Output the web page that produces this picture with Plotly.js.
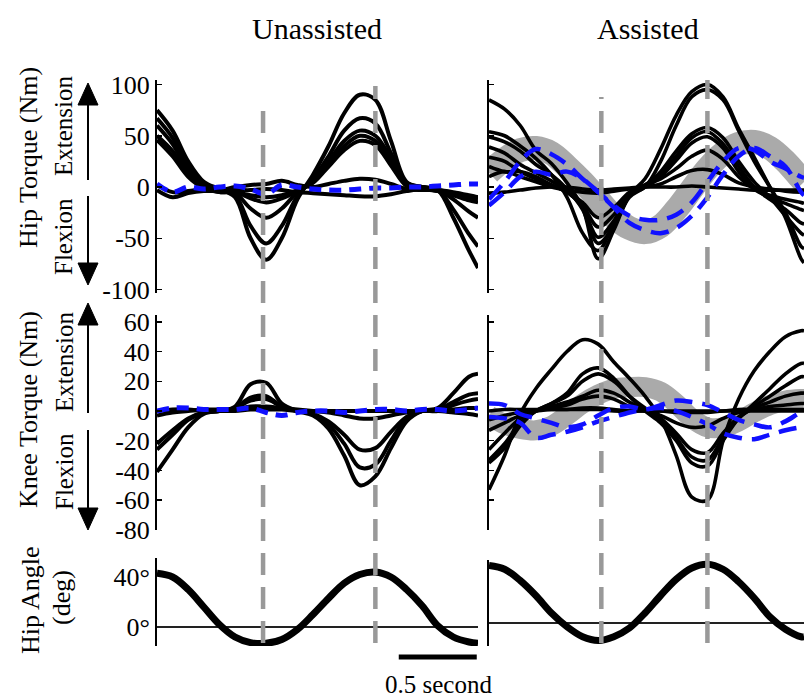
<!DOCTYPE html>
<html><head><meta charset="utf-8">
<script src="https://cdn.plot.ly/plotly-3.0.1.min.js"></script>
<style>html,body{margin:0;padding:0;background:#fff}#chart{width:804px;height:700px}</style>
</head><body><div id="chart"></div>
<script>
// ---------- DATA ----------
const timeUnassisted = [0,0.1,0.2,0.3,0.4,0.5,0.6,0.7,0.8,0.9,1.0,1.1,1.2,1.3,1.4,1.5,1.6,1.7,1.8,1.9,2.0,2.058];
const timeAssisted   = [0,0.1,0.2,0.3,0.4,0.5,0.6,0.7,0.8,0.9,1.0,1.1,1.2,1.3,1.4,1.5,1.6,1.7,1.8,1.9,2.0,2.019];

const hipTorqueUnassisted = [
  [75,55,25,5,-2,-10,-50,-71,-50,-12,12,40,72,90,85,45,5,0,-3,-30,-62,-79],
  [67,48,20,3,-3,-8,-38,-55,-38,-9,8,30,55,67,62,33,4,0,-3,-22,-46,-58],
  [60,42,17,2,-4,-6,-21,-30,-21,-5,6,25,45,55,50,28,3,0,-3,-12,-24,-30],
  [50,35,13,0,-5,-5,-11,-15,-11,-4,5,22,40,50,45,24,2,-1,-4,-8,-13,-15],
  [46,30,10,-1,-5,-5,-8,-10,-8,-3,4,20,36,45,41,21,1,-2,-4,-7,-10,-12],
  [2,-5,-4,-2,-3,0,2,3,6,2,0,3,6,8,7,3,-2,-3,-3,-5,-8,-10],
  [-3,-10,-6,-4,-4,-3,-3,-2,-3,-5,-6,-7,-8,-9,-9,-7,-4,-2,-3,-6,-9,-10]
];
const hipTorqueUnassistedDevice = [3,-5,0,-2,0,1,-2,-7,2,0,-2,-3,-3,-2,-1,-1,0,0,1,2,3,3];

const kneeTorqueUnassisted = [
  [-41,-26,-11,-2,0,3,18,19,5,0,-3,-12,-30,-50,-44,-25,-7,0,2,12,23,25],
  [-26,-16,-6,-1,0,2,9,10,3,0,-2,-9,-22,-38,-36,-20,-5,0,1,6,11,12],
  [-22,-13,-5,-1,0,2,7,8,3,0,-2,-7,-16,-26,-25,-14,-4,0,0,4,7,8],
  [-3,-1,0,1,1,1,3,3,2,1,0,-1,-3,-5,-5,-3,-1,0,0,1,2,2],
  [0,1,1,0,0,0,1,1,1,0,0,0,0,0,0,0,0,0,0,-1,-2,-3]
];
const kneeTorqueUnassistedDevice = [0,2,2,1,1,1,2,-1,-3,-1,0,0,-1,0,1,1,0,1,1,0,1,2];

const hipAngleUnassisted = [43,40,30,16,2,-8,-12.5,-13,-10,-2,10,23,35,42,44,40,30,17,1,-8,-12,-13];

const hipTorqueAssisted = [
  [85,76,60,36,23,4,-20,-70,-42,-8,8,37,70,93,100,88,57,29,0,-30,-70,-74],
  [54,50,40,28,12,-10,-45,-62,-35,-8,0,25,60,88,95,85,55,25,0,-25,-58,-60],
  [49,44,35,22,12,-2,-22,-55,-38,-10,0,15,35,52,58,48,25,5,-10,-28,-45,-47],
  [39,33,22,14,6,-4,-20,-49,-33,-8,2,12,30,48,54,42,20,0,-12,-22,-35,-36],
  [29,25,15,8,2,-5,-18,-39,-27,-6,0,10,26,43,49,38,15,-2,-10,-16,-22,-23],
  [20,15,15,10,2,-5,-15,-30,-20,-5,2,8,18,30,36,27,10,-2,-8,-12,-15,-16],
  [10,15,10,5,0,-3,-5,-6,-4,-2,0,3,10,16,17,12,4,0,-2,-4,-5,-5],
  [-6,-5,-3,-1,0,0,-2,-3,-2,-1,0,0,0,1,0,-1,-2,-3,-3,-3,-3,-3]
];
const hipTorqueAssistedDevice = [
  [-12,5,25,37,32,22,8,-5,-18,-28,-32,-32,-27,-15,5,25,38,36,25,18,10,9],
  [-18,-5,10,15,12,15,8,-5,-20,-35,-42,-45,-40,-28,-10,12,30,38,30,20,-5,-8]
];
const hipTorqueDesired = [14,27,36,38,33,20,5,-12,-29,-40,-44,-38,-22,-2,18,33,42,44,38,25,8,5];

const kneeTorqueAssisted = [
  [-53,-30,-2,15,28,40,48,45,33,22,10,-5,-30,-58,-60,-20,8,27,40,50,54,54],
  [-35,-25,-10,0,5,12,25,29,22,10,0,-8,-20,-35,-37,-20,-5,5,15,25,32,32],
  [-33,-22,-8,0,5,10,20,25,20,10,2,-5,-18,-31,-33,-18,-5,3,10,17,23,23],
  [-26,-15,-5,0,3,6,10,14,12,6,0,-5,-15,-26,-28,-15,-4,2,6,10,12,12],
  [-13,-8,-3,0,2,4,8,10,8,3,0,-3,-8,-11,-10,-5,-1,1,3,4,5,5],
  [-6,-3,-1,0,1,1,2,2,1,0,0,0,-1,-1,-1,0,0,0,0,0,0,0],
  [0,1,1,1,1,1,1,1,0,0,0,0,0,0,0,0,1,1,1,1,1,1]
];
const kneeTorqueAssistedDevice = [
  [5,4,-2,-5,-8,-11,-9,-3,2,3,1,4,7,6,4,-1,-6,-9,-11,-7,-1,-1],
  [-4,-5,-8,-18,-16,-14,-11,-7,-4,-1,1,2,0,-4,-9,-15,-18,-19,-16,-13,-11,-11]
];
const kneeTorqueDesired = [-3,-9,-12,-13,-10,-3,5,11,15,16,16,13,5,-5,-11,-11,-7,-1,4,7,8,8];

const hipAngleAssisted = [46,43,34,22,8,-3,-11,-14,-11,-4,8,22,35,44,47,43,33,20,5,-5,-11,-11];

const gaitEventsUnassisted = [0.68, 1.40];
const gaitEventsAssisted = [0.72, 1.40];
const scaleBar = [1.55, 2.05];

const hipTicks = [-100,-50,0,50,100];
const hipTickText = ['-100','-50','0','50','100'];
const kneeTicks = [-80,-60,-40,-20,0,20,40,60];
const kneeTickText = ['-80','-60','-40','-20','0','20','40','60'];
const angleTicks = [0,40];
const angleTickText = ['0°','40°'];

// ---------- LAYOUT HELPERS ----------
const W = 804, H = 700;
const px = x => x / W;
const py = y => 1 - y / H;
const FONT = "'Liberation Serif', 'DejaVu Serif', 'Times New Roman', serif";

const traces = [];
function addLine(xs, ys, xa, ya, color, width, dash) {
  traces.push({x: xs, y: ys, xaxis: xa, yaxis: ya, type: 'scatter', mode: 'lines',
    line: {color: color, width: width, dash: dash || 'solid', shape: 'spline', smoothing: 1},
    hoverinfo: 'skip', showlegend: false, cliponaxis: true});
}
const BLACK = '#000000', BLUE = '#1010ff', GRAYBAND = 'rgb(170,170,170)';

hipTorqueUnassisted.forEach(c => addLine(timeUnassisted, c, 'x', 'y', BLACK, 4));
addLine(timeUnassisted, hipTorqueUnassistedDevice, 'x', 'y', BLUE, 5, '12px,8px');
addLine(timeAssisted, hipTorqueDesired, 'x2', 'y2', GRAYBAND, 24);
hipTorqueAssisted.forEach(c => addLine(timeAssisted, c, 'x2', 'y2', BLACK, 3.6));
hipTorqueAssistedDevice.forEach(c => addLine(timeAssisted, c, 'x2', 'y2', BLUE, 4.5, '18px,10px'));
kneeTorqueUnassisted.forEach(c => addLine(timeUnassisted, c, 'x3', 'y3', BLACK, 4));
addLine(timeUnassisted, kneeTorqueUnassistedDevice, 'x3', 'y3', BLUE, 5, '12px,8px');
addLine(timeAssisted, kneeTorqueDesired, 'x4', 'y4', GRAYBAND, 20);
kneeTorqueAssisted.forEach(c => addLine(timeAssisted, c, 'x4', 'y4', BLACK, 3.6));
kneeTorqueAssistedDevice.forEach(c => addLine(timeAssisted, c, 'x4', 'y4', BLUE, 4.5, '18px,10px'));
addLine(timeUnassisted, hipAngleUnassisted, 'x5', 'y5', BLACK, 7);
addLine(timeAssisted, hipAngleAssisted, 'x6', 'y6', BLACK, 7);

const xL = [px(157), px(478)], xR = [px(489), 1];
const rangeL = [0, 2.058], rangeR = [0, 2.019];
function xax(domain, range, anchor) {
  return {domain: domain, range: range, anchor: anchor, visible: false, fixedrange: true};
}
function yax(domain, range, anchor, tickvals, ticktext, labels, ticks) {
  return {domain: domain, range: range, anchor: anchor, showline: true, linecolor: '#000', linewidth: 2,
    ticks: ticks ? 'inside' : '', ticklen: 5, tickwidth: 1.5, tickcolor: '#000',
    tickvals: tickvals, ticktext: ticktext, showticklabels: labels,
    tickfont: {family: FONT, size: 26, color: '#000'}, showgrid: false, zeroline: false, fixedrange: true};
}
const hipDom = [py(293), py(80)], kneeDom = [py(530), py(315)];

const layout = {
  width: W, height: H, margin: {l: 0, r: 0, t: 0, b: 0},
  paper_bgcolor: '#fff', plot_bgcolor: 'rgba(0,0,0,0)', showlegend: false,
  font: {family: FONT, color: '#000'},
  xaxis: xax(xL, rangeL, 'y'), yaxis: yax(hipDom, [-103.4, 104.4], 'x', hipTicks, hipTickText, true, true),
  xaxis2: xax(xR, rangeR, 'y2'), yaxis2: yax(hipDom, [-103.4, 104.4], 'x2', hipTicks, hipTickText, false, true),
  xaxis3: xax(xL, rangeL, 'y3'), yaxis3: yax(kneeDom, [-80.1, 64.6], 'x3', kneeTicks, kneeTickText, true, true),
  xaxis4: xax(xR, rangeR, 'y4'), yaxis4: yax(kneeDom, [-80.1, 64.6], 'x4', kneeTicks, kneeTickText, false, true),
  xaxis5: xax(xL, rangeL, 'y5'), yaxis5: Object.assign(yax([py(646), py(558)], [-15.2, 55.2], 'x5', angleTicks, angleTickText, true, false), {zeroline: true, zerolinecolor: '#222', zerolinewidth: 2}),
  xaxis6: xax(xR, rangeR, 'y6'), yaxis6: Object.assign(yax([py(646), py(560)], [-18.4, 50.4], 'x6', angleTicks, angleTickText, false, false), {zeroline: true, zerolinecolor: '#222', zerolinewidth: 2}),
  shapes: [], annotations: []
};

const evTopsL = [100, 86], evTopsR = [97, 80];
gaitEventsUnassisted.forEach((t, i) => layout.shapes.push({type: 'line', xref: 'x', yref: 'paper', x0: t, x1: t,
  y0: py(643), y1: py(evTopsL[i]), line: {color: '#999', width: 4.5, dash: '22px,12px'}, layer: 'above'}));
gaitEventsAssisted.forEach((t, i) => layout.shapes.push({type: 'line', xref: 'x2', yref: 'paper', x0: t, x1: t,
  y0: py(643), y1: py(evTopsR[i]), line: {color: '#999', width: 4.5, dash: '22px,12px'}, layer: 'above'}));
layout.shapes.push({type: 'line', xref: 'x5', yref: 'paper', x0: scaleBar[0], x1: scaleBar[1], y0: py(657), y1: py(657),
  line: {color: '#000', width: 5}});

function arrow(x, yFrom, yTip, dir) {
  const base = yTip + dir * 22;
  layout.shapes.push({type: 'line', xref: 'paper', yref: 'paper', x0: px(x), x1: px(x), y0: py(yFrom), y1: py(base),
    line: {color: '#000', width: 2}});
  layout.shapes.push({type: 'path', xref: 'paper', yref: 'paper',
    path: `M ${px(x)} ${py(yTip)} L ${px(x - 10)} ${py(base)} L ${px(x + 10)} ${py(base)} Z`,
    fillcolor: '#000', line: {color: '#000', width: 1}});
}
arrow(88, 180, 83, 1); arrow(88, 196, 285, -1);
arrow(88, 413, 303, 1); arrow(88, 430, 530, -1);

function label(text, x, y, size, angle) {
  layout.annotations.push({text: text, xref: 'paper', yref: 'paper', x: px(x), y: py(y), showarrow: false,
    xanchor: 'center', yanchor: 'middle', textangle: angle || 0, font: {family: FONT, size: size, color: '#000'}});
}
label('Unassisted', 317, 28, 30);
label('Assisted', 648, 28, 30);
label('Hip Torque (Nm)', 28, 158, 26, -90);
label('Extension', 64, 126, 25, -90);
label('Flexion', 64, 237, 25, -90);
label('Knee Torque (Nm)', 28, 410, 26, -90);
label('Extension', 64, 362, 25, -90);
label('Flexion', 64, 472, 25, -90);
label('Hip Angle', 30, 600, 26, -90);
label('(deg)', 61, 598, 26, -90);
label('0.5 second', 438, 684, 25);

Plotly.newPlot('chart', traces, layout, {staticPlot: true, displayModeBar: false});
</script>
</body></html>
